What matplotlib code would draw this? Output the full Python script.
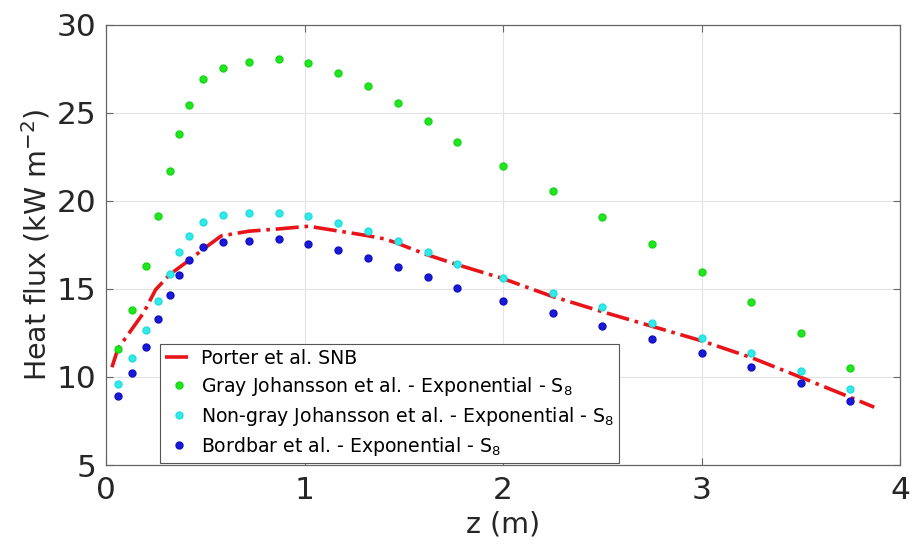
import matplotlib
matplotlib.use('Agg')
import matplotlib.pyplot as plt

# Porter et al. SNB (reference line)
z_snb = [0.03, 0.06, 0.19, 0.25, 0.32, 0.41, 0.49, 0.58, 0.72, 0.87, 1.02,
         1.31, 1.40, 1.46, 1.61, 1.77, 2.0, 2.24, 2.5, 3.0, 3.25, 3.5, 3.75, 3.87]
q_snb = [10.55, 11.6, 13.65, 14.95, 15.8, 16.55, 17.25, 18.0, 18.27, 18.4, 18.55,
         18.03, 17.84, 17.62, 16.96, 16.37, 15.58, 14.6, 13.7, 12.05, 11.1, 9.98, 8.84, 8.28]

# abscissa of the S8 results
z_s8 = [0.06, 0.13, 0.2, 0.26, 0.32, 0.37, 0.42, 0.49, 0.59, 0.72, 0.87, 1.02,
        1.17, 1.32, 1.47, 1.62, 1.77, 2.0, 2.25, 2.5, 2.75, 3.0, 3.25, 3.5, 3.75]

q_gray = [11.58, 13.79, 16.29, 19.12, 21.71, 23.8, 25.43, 26.88, 27.52, 27.86, 28.07, 27.82,
          27.27, 26.52, 25.57, 24.54, 23.33, 21.97, 20.56, 19.09, 17.54, 15.95, 14.26, 12.5, 10.49]
q_nongray = [9.62, 11.09, 12.64, 14.3, 15.84, 17.1, 17.97, 18.81, 19.18, 19.28, 19.33, 19.12,
             18.75, 18.27, 17.69, 17.09, 16.39, 15.6, 14.77, 13.94, 13.07, 12.2, 11.33, 10.35, 9.3]
q_bordbar = [8.9, 10.24, 11.67, 13.26, 14.65, 15.8, 16.61, 17.35, 17.65, 17.73, 17.8, 17.54,
             17.2, 16.75, 16.26, 15.65, 15.05, 14.33, 13.62, 12.88, 12.13, 11.33, 10.54, 9.67, 8.65]

labels = ['Porter et al. SNB',
          'Gray Johansson et al. - Exponential - S$_8$',
          'Non-gray Johansson et al. - Exponential - S$_8$',
          'Bordbar et al. - Exponential - S$_8$']

plt.rcParams['font.family'] = ['DejaVu Sans']
plt.rcParams['mathtext.default'] = 'regular'

fig = plt.figure(figsize=(9.17, 5.52), dpi=100)
ax = fig.add_axes([0.1156, 0.1576, 0.8659, 0.798])

ax.plot(z_snb, q_snb, color='#e8141a', ls='-.', lw=2.6, label=labels[0], zorder=3)
ax.plot(z_s8, q_gray, 'o', color='#22e622', ms=5, mec='#14d814', label=labels[1], zorder=4)
ax.plot(z_s8, q_nongray, 'o', color='#33eaea', ms=5, mec='#22dede', label=labels[2], zorder=4)
ax.plot(z_s8, q_bordbar, 'o', color='#1a1ad6', ms=5, mec='#1010c8', label=labels[3], zorder=4)

ax.set_xlim(0, 4)
ax.set_ylim(5, 30)
ax.set_xticks([0, 1, 2, 3, 4])
ax.set_yticks([5, 10, 15, 20, 25, 30])
ax.grid(True, color='#e3e3e3', lw=0.8)
ax.set_axisbelow(True)
ax.tick_params(direction='in', top=True, right=True, labelsize=22.5,
               length=5, color='#666666', labelcolor='#262626')
ax.tick_params(axis='x', pad=8)
ax.tick_params(axis='y', pad=7)
for s in ax.spines.values():
    s.set_color('#666666')
    s.set_linewidth(0.9)

ax.set_xlabel('z (m)', fontsize=20.5, color='#262626', labelpad=4)
ax.set_ylabel('Heat flux (kW m$^{-2}$)', fontsize=20.5, color='#262626', labelpad=3)

leg = ax.legend(loc='lower left', bbox_to_anchor=(0.068, 0.005), fontsize=13.6,
                handlelength=1.5, handletextpad=0.4, borderpad=0.25,
                labelspacing=0.38, fancybox=False, framealpha=1,
                edgecolor='#555555', borderaxespad=0)
leg.get_frame().set_linewidth(0.8)

fig.savefig('out.png', dpi=100)
